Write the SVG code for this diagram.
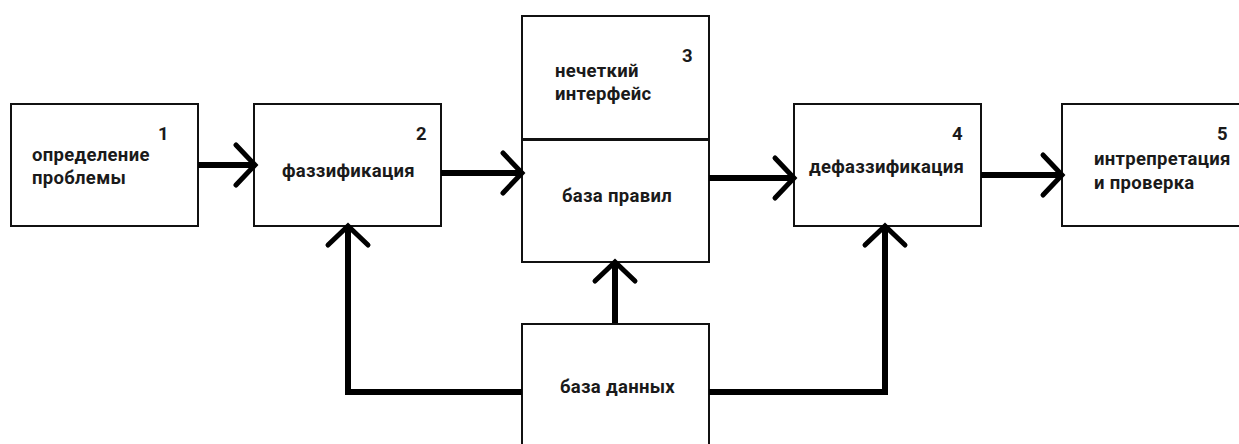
<svg xmlns="http://www.w3.org/2000/svg" width="1239" height="444" viewBox="0 0 1239 444">
<defs>
<style>
.box{fill:#fff;stroke:#111;stroke-width:2}
.t{font-family:Roboto,"Liberation Sans",sans-serif;font-weight:bold;font-size:18.5px;letter-spacing:0.3px;fill:#1a1a1a}
.n{text-anchor:end}
.c{fill:none;stroke:#000;stroke-width:6}
</style>
<marker id="chev" markerUnits="userSpaceOnUse" orient="auto" refX="0" refY="0" markerWidth="60" markerHeight="60" overflow="visible">
<path d="M-16 -20 L3 0 L-16 20" fill="none" stroke="#000" stroke-width="5" stroke-linecap="round" stroke-linejoin="miter"/>
</marker>
</defs>
<rect width="1239" height="444" fill="#fff"/>
<g id="n1">
<rect class="box" x="11" y="104" width="187" height="122"/>
<text class="t n" x="169" y="140">1</text>
<text class="t" x="32" y="161">определение</text>
<text class="t" x="32" y="184">проблемы</text>
</g>
<g id="n2">
<rect class="box" x="254" y="104" width="187" height="122"/>
<text class="t n" x="427" y="140">2</text>
<text class="t" x="282" y="177">фаззификация</text>
</g>
<g id="n3">
<rect class="box" x="522" y="16" width="187" height="123"/>
<text class="t n" x="693" y="62">3</text>
<text class="t" x="555" y="77">нечеткий</text>
<text class="t" x="555" y="100">интерфейс</text>
</g>
<g id="n3b">
<rect class="box" x="522" y="140" width="187" height="122"/>
<text class="t" x="562" y="202">база правил</text>
</g>
<g id="n4">
<rect class="box" x="794" y="104" width="187" height="122"/>
<text class="t n" x="963" y="140">4</text>
<text class="t" x="809" y="173">дефаззификация</text>
</g>
<g id="n5">
<rect class="box" x="1062" y="104" width="190" height="122"/>
<text class="t n" x="1228" y="140">5</text>
<text class="t" x="1094" y="165">интрепретация</text>
<text class="t" x="1094" y="189">и проверка</text>
</g>
<g id="db">
<rect class="box" x="522" y="324" width="187" height="130"/>
<text class="t" x="560" y="393">база данных</text>
</g>
<g id="connectors">
<path class="c" d="M198 165 H252" marker-end="url(#chev)"/>
<path class="c" d="M441 173 H519" marker-end="url(#chev)"/>
<path class="c" d="M709 178 H791" marker-end="url(#chev)"/>
<path class="c" d="M981 175 H1059" marker-end="url(#chev)"/>
<path class="c" d="M522 392 H348 V229" marker-end="url(#chev)"/>
<path class="c" d="M615 323 V265" marker-end="url(#chev)"/>
<path class="c" d="M709 392 H885 V229" marker-end="url(#chev)"/>
</g>
</svg>
